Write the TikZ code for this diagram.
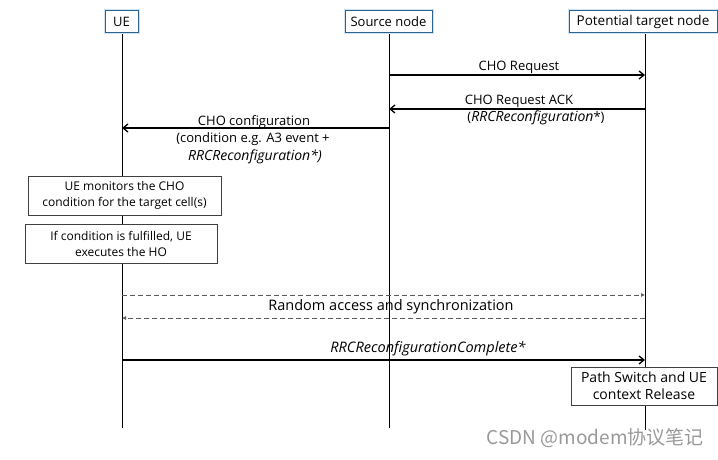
\documentclass[tikz,border=0pt]{standalone}
\usepackage{fontspec}
\setmainfont{Open Sans}
\newfontfamily\cjkfont{Noto Sans CJK SC}
\usetikzlibrary{arrows.meta}
\definecolor{hdrblue}{HTML}{2B6390}
\definecolor{halo}{HTML}{CFE3F2}
\newcommand{\itl}[1]{{\fontsize{14}{16}\selectfont\itshape #1}}
\tikzset{
  actor/.style={draw=hdrblue, line width=1pt, fill=white, minimum height=22pt, inner xsep=0pt, font=\fontsize{13}{15}\selectfont},
  lifeline/.style={line width=0.8pt, black},
  msg/.style={line width=1.5pt, -{Straight Barb[length=5pt, width=8pt, line width=1.3pt]}},
  dmsg/.style={line width=0.6pt, draw=black!65, dash pattern=on 5pt off 3pt, -{Latex[length=4pt, width=4pt]}},
  lbl/.style={font=\fontsize{13}{15}\selectfont, inner sep=0pt, align=center},
  notebox/.style={draw=black!75, line width=0.7pt, fill=white, align=center, font=\fontsize{12}{16}\selectfont, inner sep=0pt}
}
\begin{document}
\begin{tikzpicture}[x=1pt, y=-1pt]
\useasboundingbox (0,0) rectangle (718,460);
% lifelines
\coordinate (ueTop) at (122,33);
\coordinate (ueBot) at (122,428);
\coordinate (srcTop) at (389,33);
\coordinate (srcBot) at (389,428);
\coordinate (tgtTop) at (645,33);
\coordinate (tgtBot) at (645,430);
\draw[lifeline] (ueTop) -- (ueBot);
\draw[lifeline] (srcTop) -- (srcBot);
\draw[lifeline] (tgtTop) -- (tgtBot);
% headers with halo
\foreach \xa/\xb in {105/138, 345/432, 569/717}{
  \draw[halo, line width=3pt] (\xa,11) rectangle (\xb,33);
}
\node[actor, minimum width=33pt] (ue) at (121.5,22) {UE};
\node[actor, minimum width=87pt] (src) at (388.5,22) {Source node};
\node[actor, minimum width=148pt, font=\fontsize{13.5}{15}\selectfont] (tgt) at (643,22) {Potential target node};
% message anchors
\coordinate (s1) at (389,75); \coordinate (t1) at (645,75);
\coordinate (t2) at (645,109); \coordinate (s2) at (389,109);
\coordinate (s3) at (389,128); \coordinate (u3) at (122,128);
\draw[msg] (s1) -- (t1);
\node[lbl] (l1) at (519,67) {CHO Request};
\draw[msg] (t2) -- (s2);
\node[lbl] (l2a) at (519,101) {CHO Request ACK};
\node[lbl] (l2b) at (536,117.5) {(\itl{RRCReconfiguration}*)};
\draw[msg] (s3) -- (u3);
\node[lbl] (l3a) at (254,122.5) {CHO configuration};
\node[lbl] (l3b) at (253,139.5) {(condition e.g. A3 event +};
\node[lbl] (l3c) at (255,157) {\itl{RRCReconfiguration*)}};
% notes
\node[notebox, minimum width=193pt, minimum height=39pt] (n1) at (124.5,195.5) {UE monitors the CHO\\condition for the target cell(s)};
\node[notebox, minimum width=192pt, minimum height=39pt] (n2) at (121,243.5) {If condition is fulfilled, UE\\executes the HO};
% random access
\coordinate (u4) at (122,295); \coordinate (t4) at (645,295);
\coordinate (t5) at (645,318); \coordinate (u5) at (122,318);
\draw[dmsg] (u4) -- (t4);
\draw[dmsg] (t5) -- (u5);
\node[lbl, font=\fontsize{14.5}{16}\selectfont] (l4) at (391,307) {Random access and synchronization};
% complete
\coordinate (u6) at (122,360); \coordinate (t6) at (645,360);
\draw[msg] (u6) -- (t6);
\node[lbl] (l6) at (428,348.5) {\itl{\fontsize{14.5}{16}\selectfont RRCReconfigurationComplete*}};
\node[notebox, minimum width=146pt, minimum height=38pt, font=\fontsize{14}{17}\selectfont] (n3) at (644,386) {Path Switch and UE\\context Release};
% watermark
\node[font=\cjkfont\fontsize{19}{21}\selectfont, text=black!40, inner sep=0pt, anchor=east] (wm) at (704,438) {CSDN @modem协议笔记};
\end{tikzpicture}
\end{document}
